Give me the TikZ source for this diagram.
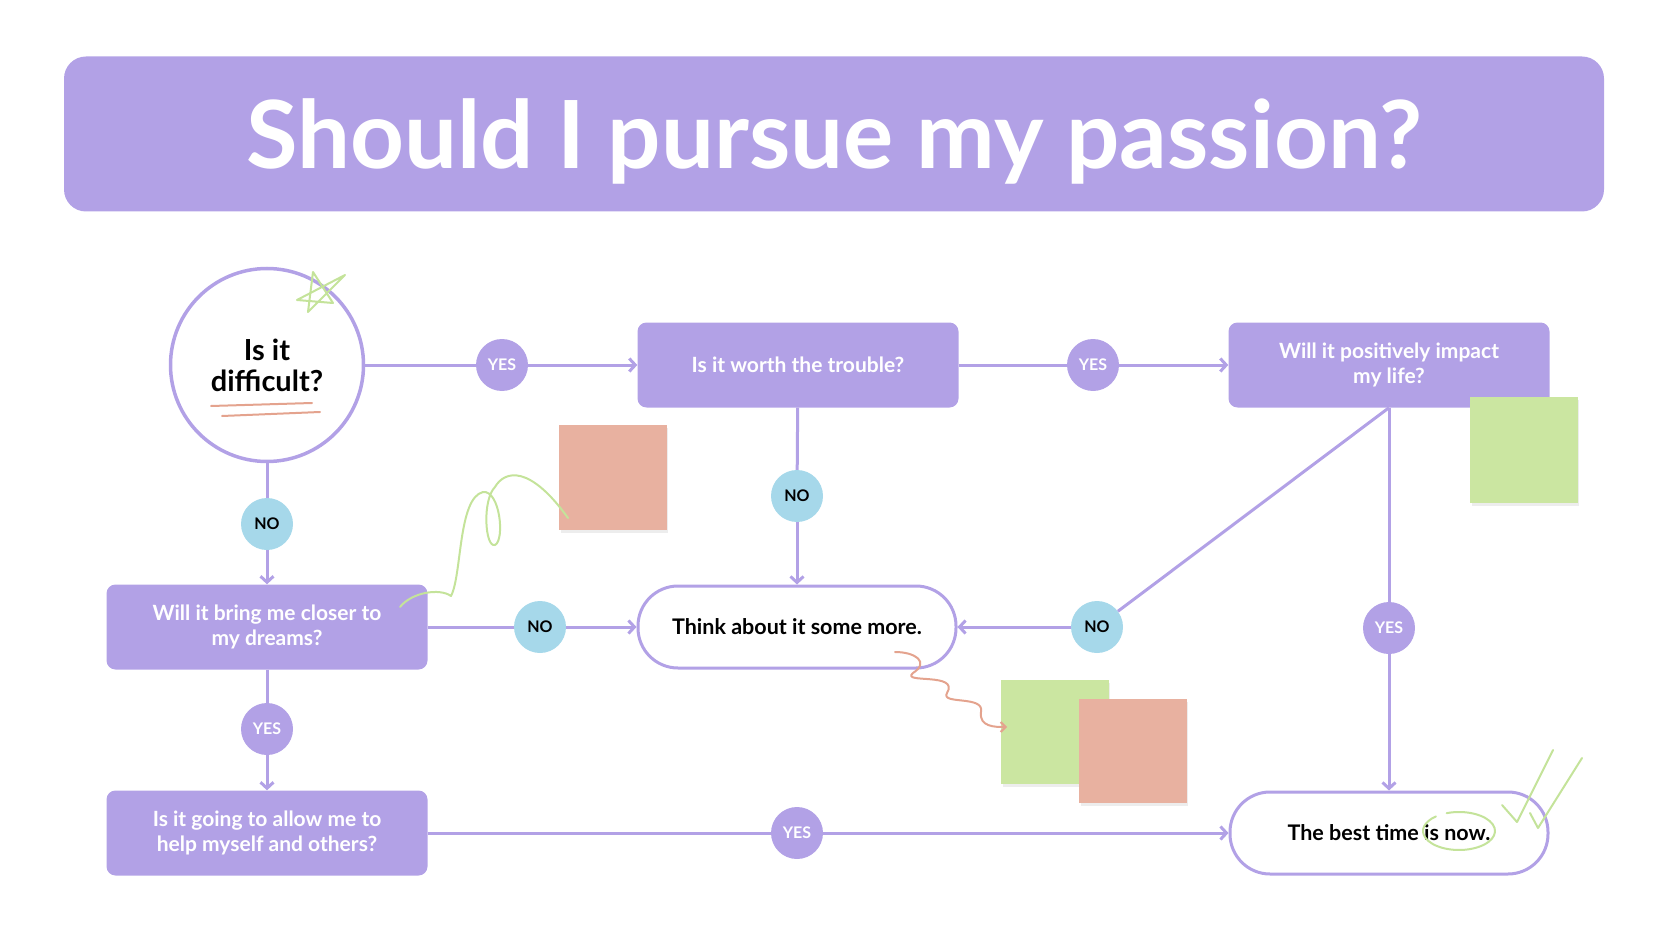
\documentclass[tikz,border=0pt]{standalone}
\usepackage{fontspec}
\setmainfont{Lato}
\usetikzlibrary{arrows.meta,positioning}

\definecolor{lilac}{HTML}{B2A1E6}
\definecolor{skyblue}{HTML}{A6D8EA}
\definecolor{leaf}{HTML}{CBE6A1}
\definecolor{salmon}{HTML}{E8B1A0}
\definecolor{leafink}{HTML}{C4E39A}
\definecolor{salmonink}{HTML}{E4A38E}

\begin{document}
\begin{tikzpicture}[x=1pt,y=-1pt,
  qbox/.style={fill=lilac,rounded corners=9pt,minimum width=321pt,minimum height=85pt,
    align=center,text=white,font=\bfseries\fontsize{21}{25}\selectfont},
  endbox/.style={draw=lilac,line width=3pt,fill=white,rounded corners=40pt,minimum width=318pt,
    minimum height=82pt,align=center,font=\bfseries\fontsize{21.5}{25}\selectfont},
  ask/.style={draw=lilac,line width=3.5pt,circle,minimum size=193pt,align=center,
    font=\bfseries\fontsize{29}{31}\selectfont},
  yes/.style={circle,fill=lilac,minimum size=52pt,inner sep=0pt,text=white,
    font=\bfseries\fontsize{16}{16}\selectfont},
  no/.style={circle,fill=skyblue,minimum size=52pt,inner sep=0pt,
    font=\bfseries\fontsize{16}{16}\selectfont},
  link/.style={draw=lilac,line width=3pt},
  flow/.style={link,-{Straight Barb[length=6pt,width=13pt]}},
  ink/.style={line width=2pt,line cap=round,line join=round}]

\useasboundingbox (0,0) rectangle (1657,933);

% title bar
\node[fill=lilac,rounded corners=22pt,minimum width=1540pt,minimum height=155pt,text=white,
  text depth=0pt,font=\bfseries\fontsize{94}{100}\selectfont] (title) at (834,134) {Should I pursue my passion?};

% questions and answers
\node[ask] (diff) at (267,365) {Is it\\difficult?};
\node[qbox] (worth) at (798,365) {Is it worth the trouble?};
\node[qbox] (impact) at (1389,365) {Will it positively impact\\my life?};
\node[qbox] (closer) at (267,627) {Will it bring me closer to\\my dreams?};
\node[endbox] (think) at (797,627) {Think about it some more.};
\node[qbox] (allow) at (267,833) {Is it going to allow me to\\help myself and others?};
\node[endbox] (best) at (1389,833) {The best time is now.};

% yes / no tags
\node[yes] (y1) at (502,365) {YES};
\node[yes] (y2) at (1093,365) {YES};
\node[no] (n1) at (267,524) {NO};
\node[no] (n2) at (797,496) {NO};
\node[no] (n3) at (540,627) {NO};
\node[no] (n4) at (1097,627) {NO};
\node[yes] (y3) at (1389,628) {YES};
\node[yes] (y4) at (267,729) {YES};
\node[yes] (y5) at (797,833) {YES};

% connectors
\draw[link] (diff) -- (y1);
\draw[flow] (y1) -- (worth);
\draw[link] (worth) -- (y2);
\draw[flow] (y2) -- (impact);
\draw[link] (worth) -- (n2);
\draw[flow] (n2) -- (think);
\draw[link] (diff) -- (n1);
\draw[flow] (n1) -- (closer);
\draw[link] (closer) -- (n3);
\draw[flow] (n3) -- (think);
\draw[link] (closer) -- (y4);
\draw[flow] (y4) -- (allow);
\draw[link] (allow) -- (y5);
\draw[flow] (y5) -- (best);
\draw[link] (impact.south) -- (n4);
\draw[flow] (n4) -- (think);
\draw[link] (impact) -- (y3);
\draw[flow] (y3) -- (best);

% sticky notes
\fill[black!7] (561,428) rectangle (668,533);
\fill[salmon] (559,425) rectangle (667,530);
\fill[black!7] (1472,400) rectangle (1579,506);
\fill[leaf] (1470,397) rectangle (1578,503);
\fill[black!7] (1003,683) rectangle (1110,787);
\fill[leaf] (1001,680) rectangle (1109,784);
\fill[black!7] (1081,702) rectangle (1188,806);
\fill[salmon] (1079,699) rectangle (1187,803);

% scribbles
\draw[ink,salmonink] (211,406) -- (312,403);
\draw[ink,salmonink] (222,416) -- (320,412);
\draw[ink,leafink] (313,272) -- (333,303) -- (297,300) -- (345,275) -- (308,312) -- cycle;
\draw[ink,leafink] (400,607) .. controls (412,592) and (440,588) .. (451,596)
  .. controls (462,575) and (458,498) .. (483,492)
  .. controls (500,490) and (505,540) .. (495,545)
  .. controls (485,548) and (482,500) .. (495,487)
  .. controls (505,470) and (530,465) .. (568,518);
\draw[ink,salmonink,-{Straight Barb[length=5pt,width=10pt]}] (895,652)
  .. controls (915,652) and (930,662) .. (913,673)
  .. controls (900,684) and (960,672) .. (947,693)
  .. controls (940,705) and (985,695) .. (981,712)
  .. controls (979,727) and (995,727) .. (1007,727);
\draw[ink,leafink] (1459,831) ++(250:36 and 19) arc[start angle=250,end angle=590,x radius=36,y radius=19];
\draw[ink,leafink] (1502,805) -- (1517,822) -- (1553,750);
\draw[ink,leafink] (1530,813) -- (1538,828) -- (1582,758);
\end{tikzpicture}
\end{document}
